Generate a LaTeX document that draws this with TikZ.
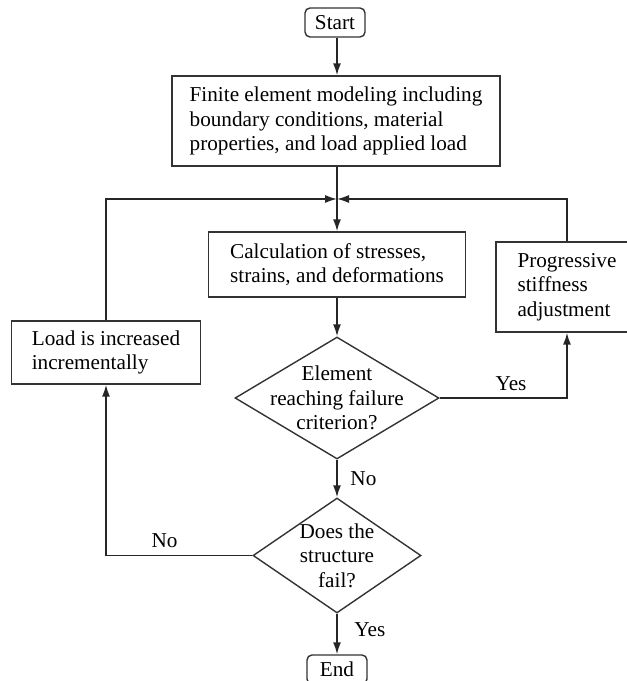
\documentclass[tikz,border=0pt]{standalone}
\usepackage{fontspec}
\setmainfont{Liberation Serif}
\usetikzlibrary{shapes.geometric,arrows.meta}

\begin{document}
\begin{tikzpicture}[x=0.5pt, y=-0.5pt,
        font=\fontsize{10.6}{12.25}\selectfont,
        term/.style={draw=black!80, line width=0.7pt, rounded corners=2.5pt, minimum width=30pt, minimum height=14.5pt, inner sep=0pt},
        proc/.style={draw=black!80, line width=0.7pt, align=left, inner xsep=8pt},
        decide/.style={diamond, draw=black!80, line width=0.7pt, align=center, inner sep=-5pt},
        arr/.style={draw=black!85, line width=0.8pt, -{Latex[length=6pt,width=4pt]}}]
                \useasboundingbox (0,0) rectangle (627,681);

                % Nodes
                \node[term] (start) at (335,22.5) {Start};
                \node[proc, minimum width=164pt, minimum height=45pt] (model) at (336,121) {Finite element modeling including\\boundary conditions, material\\properties, and load applied load};
                \coordinate (merge) at (337,199);
                \node[proc, minimum width=128.5pt, minimum height=32.5pt] (calc) at (337,264.5) {Calculation of stresses,\\strains, and deformations};
                \node[proc, minimum width=94.5pt, minimum height=31.5pt] (load) at (106,352.5) {Load is increased\\incrementally};
                \node[proc, minimum width=71pt, minimum height=45pt] (prog) at (567,287) {Progressive\\stiffness\\adjustment};
                \node[decide, minimum width=102pt, minimum height=61pt, aspect=1.67] (crit) at (337,398) {Element\\reaching failure\\criterion?};
                \node[decide, minimum width=84pt, minimum height=57.5pt, aspect=1.46] (fail) at (337,555.5) {Does the\\structure\\fail?};
                \node[term] (end) at (337,669.5) {End};

                % Edges
                \draw[arr] (start.south -| merge) -- (model.north -| merge);
                \draw[arr] (model.south -| merge) -- (calc);
                \draw[arr] (load.north) |- (merge);
                \draw[arr] (prog.north) |- (merge);
                \draw[arr] (calc) -- (crit);
                \draw[arr] (crit.east) -| node[pos=0.28, above]{Yes} (prog.south);
                \draw[arr] (crit) -- node[right, xshift=3pt]{No} (fail);
                \draw[arr] (fail.west) -| node[pos=0.3, above]{No} (load.south);
                \draw[arr] (fail) -- node[right, xshift=5pt, pos=0.4]{Yes} (end);
            \end{tikzpicture}
\end{document}
